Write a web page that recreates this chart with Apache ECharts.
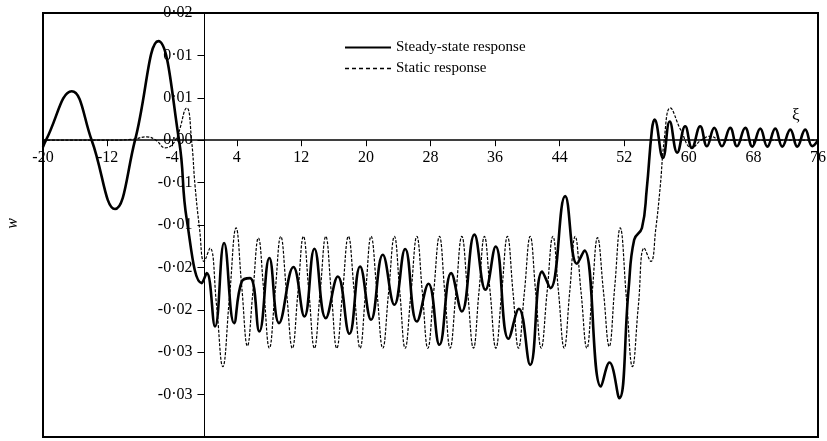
<!DOCTYPE html>
<html>
<head>
<meta charset="utf-8">
<script src="https://cdn.jsdelivr.net/npm/echarts@6/dist/echarts.min.js"></script>
<style>
  html, body { margin: 0; padding: 0; background: #fff; }
  #main { width: 827px; height: 441px; }
</style>
</head>
<body>
<div id="main"></div>
<script>
// xi positions and w values
var steadyXi = [-20, -19.63, -16.44, -13.97, -11.08, -8.6, -5.71, -3.15, -2.19, -0.33, 0.29, 1.31,
  2.43, 3.67, 4.62, 5.65, 6.8, 8.04, 9.24, 11.02, 12.38, 13.62, 15.03, 16.52, 17.96, 19.28,
  20.64, 22.09, 23.53, 24.86, 26.31, 27.75, 29.11, 30.56, 31.88, 33.44, 34.81, 36.07, 37.66,
  38.95, 40.35, 41.83, 42.86, 44.68, 46.13, 47.07, 49.11, 50.17, 51.38, 52.53, 53.23, 54.19,
  54.78, 55.43, 55.75, 56.79, 57.63, 58.56, 59.55, 60.38, 61.41, 62.24, 63.15, 64.1, 65.13,
  65.96, 66.99, 67.86, 68.85, 69.72, 70.71, 71.57, 72.57, 73.43, 74.42, 75.29, 76];
var steadyW = [-0.0008, 0, 0.00577, 0, -0.00811, 0, 0.01168, 0, -0.00937, -0.01685, -0.01567, -0.02197,
  -0.01212, -0.02157, -0.01666, -0.01626, -0.02256, -0.0139, -0.02157, -0.01496, -0.02079, -0.0128, -0.02098, -0.01607, -0.02283, -0.01489,
  -0.02118, -0.01351, -0.01941, -0.01283, -0.02138, -0.01693, -0.02413, -0.01567, -0.0202, -0.01114, -0.01764, -0.01253, -0.02342,
  -0.01988, -0.02649, -0.01548, -0.01744, -0.0066, -0.01457, -0.013, -0.02905, -0.02622, -0.03042, -0.01764, -0.01173, -0.01035,
  -0.00583, 0.00125, 0.00243, -0.00209, 0.0022, -0.00146, 0.00164, -0.00091, 0.00164, -0.00072, 0.00145, -0.00072, 0.00145,
  -0.00072, 0.00145, -0.00076, 0.00137, -0.00076, 0.00137, -0.00076, 0.00125, -0.00076, 0.00125, -0.0007, 0];

var staticXi = [-20, -12, -9, -7.15, -6, -4.88, -3.6, -2.19, -1.6, -1.16, -0.6, -0.05, 0.69, 1.5, 2.27,
  3.1, 3.92, 4.62, 5.32, 6.0, 6.68, 7.36, 8.04, 8.75, 9.45, 10.17, 10.89, 11.58, 12.26, 12.94, 13.62,
  14.33, 15.03, 15.71, 16.39, 17.11, 17.83, 18.56, 19.28, 19.96, 20.64, 21.37, 22.09, 22.81, 23.53,
  24.2, 24.86, 25.59, 26.31, 26.99, 27.67, 28.39, 29.11, 29.77, 30.43, 31.16, 31.88, 32.6, 33.32,
  34.0, 34.68, 35.39, 36.1, 36.82, 37.53, 38.22, 38.9, 39.63, 40.35, 41.03, 41.71, 42.44, 43.16,
  43.86, 44.56, 45.24, 45.92, 46.65, 47.37, 48.03, 48.69, 49.42, 50.14, 50.82, 51.5, 52.26, 53.02,
  53.75, 54.47, 55.3, 55.9, 56.46, 56.95, 57.7, 59.0, 60.38, 61.5, 62.65, 64, 68, 76];
var staticW = [0, 0, 0.0001, 0.00039, 0, -0.00091, 0, 0.00381, 0, -0.00544, -0.0105, -0.0143, -0.01272, -0.0195, -0.0267,
  -0.0185, -0.01035, -0.0173, -0.02425, -0.0179, -0.01153, -0.0179, -0.02452, -0.01793, -0.01135, -0.01793, -0.02452, -0.01793, -0.01135, -0.01793, -0.02452,
  -0.01793, -0.01135, -0.01793, -0.02452, -0.01793, -0.01135, -0.01793, -0.02452, -0.01793, -0.01135, -0.01793, -0.02452, -0.01793, -0.01135,
  -0.01793, -0.02452, -0.01793, -0.01135, -0.01793, -0.02452, -0.01793, -0.01135, -0.01793, -0.02452, -0.01793, -0.01135, -0.01793, -0.02452,
  -0.01793, -0.01135, -0.01793, -0.02452, -0.01793, -0.01135, -0.01793, -0.02452, -0.01793, -0.01135, -0.01793, -0.02452, -0.01793, -0.01135,
  -0.01793, -0.02452, -0.01793, -0.01135, -0.01793, -0.02452, -0.01793, -0.0115, -0.0178, -0.0243, -0.0173, -0.01035, -0.0185, -0.0267,
  -0.0195, -0.01272, -0.0143, -0.0105, -0.00544, 0, 0.00381, 0.0012, -0.00091, 0, 0.00046, 0, 0, 0];

var seriesNames = ['Steady-state response', 'Static response'];
var xTicks = { min: -20, max: 76, step: 8 };
var yTicks = { min: -0.035, max: 0.015, step: 0.005 };

function pairs(xs, ys) {
  return xs.map(function (x, i) { return [x, ys[i]]; });
}

// labels are shown to two decimals, rounding half away from zero, with a middle dot
function fmtW(v) {
  var r = Math.round(Math.abs(v) * 100 + 1e-6) / 100;
  var s = r.toFixed(2).replace('.', '·');
  return (v < 0 && r > 0 ? '-' : '') + s;
}

var W = 827, H = 441;
var gLeft = 43, gRight = 9, gTop = 13, gBottom = 4;
var gW = W - gLeft - gRight, gH = H - gTop - gBottom;
// both axes cross at the origin, labels and ticks included
var yAxisOffset = -gW * (0 - xTicks.min) / (xTicks.max - xTicks.min);
var xAxisOffset = -gH * (0 - yTicks.min) / (yTicks.max - yTicks.min);

var font = '"Liberation Serif", "Times New Roman", serif';
var myChart = echarts.init(document.getElementById('main'));
myChart.setOption({
  animation: false,
  backgroundColor: '#fff',
  textStyle: { fontFamily: font, color: '#000' },
  grid: {
    left: gLeft, right: gRight, top: gTop, bottom: gBottom,
    outerBoundsMode: 'none',
    show: true, borderColor: '#000', borderWidth: 2
  },
  legend: {
    orient: 'vertical',
    left: 339, top: 35,
    itemWidth: 46, itemHeight: 14, itemGap: 6,
    itemStyle: { opacity: 0 },
    textStyle: { fontFamily: font, fontSize: 15, color: '#000' },
    data: [
      { name: seriesNames[0] },
      { name: seriesNames[1], lineStyle: { type: [4, 3], width: 1.3, color: '#000' } }
    ]
  },
  xAxis: {
    type: 'value',
    position: 'bottom',
    offset: xAxisOffset,
    min: xTicks.min, max: xTicks.max, interval: xTicks.step,
    splitLine: { show: false },
    axisLine: { onZero: false, lineStyle: { color: '#000', width: 1.5 } },
    axisTick: { length: 6, lineStyle: { color: '#000' } },
    axisLabel: {
      margin: 10, fontSize: 16, color: '#000', fontFamily: font,
      showMinLabel: true, showMaxLabel: true
    }
  },
  yAxis: {
    type: 'value',
    position: 'left',
    offset: yAxisOffset,
    min: yTicks.min, max: yTicks.max, interval: yTicks.step,
    splitLine: { show: false },
    axisLine: { show: true, onZero: false, lineStyle: { color: '#000', width: 1 } },
    axisTick: { show: true, length: 7, lineStyle: { color: '#000' } },
    axisLabel: {
      margin: 12, fontSize: 16, color: '#000', fontFamily: font,
      showMinLabel: false, showMaxLabel: true,
      formatter: fmtW
    }
  },
  graphic: [
    {
      type: 'text', left: 5, top: 218, rotation: Math.PI / 2,
      style: { text: 'w', font: 'italic 16px ' + font, fill: '#000' }
    },
    {
      type: 'text', left: 792, top: 107,
      style: { text: 'ξ', font: '17px ' + font, fill: '#000' }
    }
  ],
  series: [
    {
      name: seriesNames[0],
      type: 'line',
      smooth: 0.45,
      symbol: 'none',
      data: pairs(steadyXi, steadyW),
      lineStyle: { color: '#000', width: 2.6 },
      itemStyle: { color: '#000' },
      z: 3
    },
    {
      name: seriesNames[1],
      type: 'line',
      smooth: 0.45,
      symbol: 'none',
      data: pairs(staticXi, staticW),
      lineStyle: { color: '#000', width: 1.2, type: [3, 1.5] },
      itemStyle: { color: '#000' },
      z: 2
    }
  ]
});
</script>
</body>
</html>
